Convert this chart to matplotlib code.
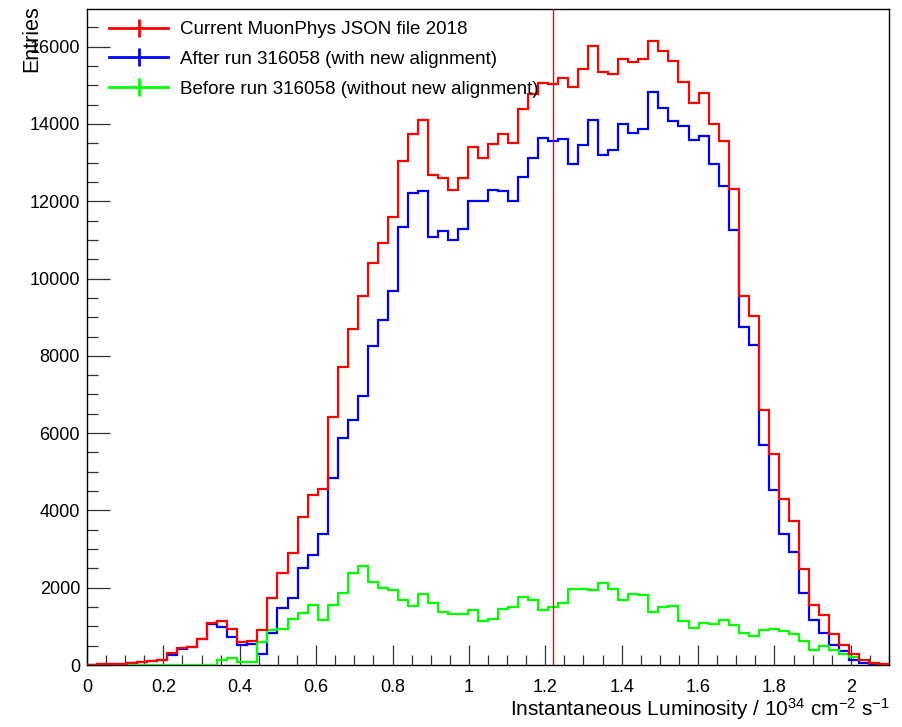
import numpy as np
import matplotlib
matplotlib.use("Agg")
import matplotlib.pyplot as plt
from matplotlib.lines import Line2D
from matplotlib.ticker import MultipleLocator

plt.rcParams['font.family'] = ['Liberation Sans', 'DejaVu Sans']
plt.rcParams['mathtext.fontset'] = 'custom'
plt.rcParams['mathtext.rm'] = 'Liberation Sans'
plt.rcParams['mathtext.default'] = 'regular'

# Histogram binning
X_MIN, X_MAX, N_BINS = 0.0, 2.1, 80

# Bin contents
current_2018 = [10, 20, 30, 35, 50, 70, 100, 130, 300, 430,
                475, 670, 1095, 1140, 920, 600, 630, 905, 1725, 2370,
                2900, 3830, 4410, 4560, 6410, 7720, 8700, 9540, 10410, 10930,
                11600, 13030, 13750, 14100, 12690, 12610, 12300, 12610, 13410, 13120,
                13490, 13730, 13500, 14380, 14780, 15050, 15040, 15200, 14960, 15420,
                16030, 15340, 15290, 15690, 15600, 15690, 16160, 15900, 15630, 15090,
                14550, 14800, 14000, 13560, 12310, 9560, 9030, 6600, 5470, 4290,
                3730, 2490, 1540, 1300, 800, 505, 275, 135, 55, 18]

after_run = [10, 20, 30, 35, 50, 70, 100, 120, 260, 410,
             460, 660, 1070, 975, 735, 520, 545, 290, 830, 1470,
             1740, 2500, 2850, 3400, 4840, 5870, 6340, 6970, 8260, 8930,
             9680, 11340, 12220, 12260, 11080, 11220, 10990, 11270, 12010, 12000,
             12280, 12270, 12010, 12620, 13130, 13650, 13570, 13620, 12970, 13460,
             14100, 13190, 13330, 14010, 13760, 13870, 14820, 14410, 14080, 13950,
             13590, 13700, 12960, 12400, 11250, 8740, 8270, 5700, 4540, 3400,
             2925, 1870, 1160, 820, 530, 370, 130, 55, 10, 0]

before_run = [0, 0, 0, 0, 0, 0, 0, 0, 0, 0,
              0, 0, 0, 140, 190, 90, 65, 590, 900, 920,
              1180, 1350, 1560, 1160, 1565, 1860, 2370, 2570, 2145, 2000,
              1950, 1680, 1525, 1835, 1610, 1380, 1330, 1310, 1415, 1130,
              1200, 1448, 1510, 1755, 1690, 1420, 1490, 1600, 1975, 1960,
              1940, 2125, 1970, 1685, 1830, 1810, 1368, 1500, 1528, 1139,
              970, 1090, 1060, 1160, 1030, 820, 760, 900, 920, 880,
              815, 610, 380, 498, 400, 296, 198, 118, 42, 0]

labels = ["Current MuonPhys JSON file 2018",
          "After run 316058 (with new alignment)",
          "Before run 316058 (without new alignment)"]
colors = ["#ff0000", "#0000ff", "#00ff00"]
vline_x = 1.221

edges = np.linspace(X_MIN, X_MAX, N_BINS + 1)

W, H = 902, 727
fig = plt.figure(figsize=(W / 100, H / 100), dpi=100)
ax = fig.add_axes([87 / W, 1 - 665 / H, (889 - 87) / W, (665 - 9.3) / H])

series = [current_2018, after_run, before_run]
order = [1, 2, 0]
for k in order:
    ax.stairs(series[k], edges, baseline=None, color=colors[k], lw=1.6, zorder=3 + (k == 0))

ymax = 1.05 * max(max(s) for s in series)
ax.set_xlim(X_MIN, X_MAX)
ax.set_ylim(0, ymax)
ax.axvline(vline_x, color="#ff0000", lw=1.0, zorder=5)

ax.xaxis.set_major_locator(MultipleLocator(0.2))
ax.xaxis.set_minor_locator(MultipleLocator(0.05))
ax.yaxis.set_major_locator(MultipleLocator(2000))
ax.yaxis.set_minor_locator(MultipleLocator(500))
ax.xaxis.set_major_formatter(matplotlib.ticker.FuncFormatter(lambda v, p: f"{v:g}"))
ax.tick_params(axis='x', which='major', direction='in', length=14.5, width=0.9, color='#333333',
               labelsize=13.0, pad=10, top=False)
ax.tick_params(axis='x', which='minor', direction='in', length=7.2, width=0.9, color='#333333', top=False)
ax.tick_params(axis='y', which='major', direction='in', length=16.5, width=0.9, color='#333333',
               labelsize=13.0, pad=5, right=False)
ax.tick_params(axis='y', which='minor', direction='in', length=8.2, width=0.9, color='#333333', right=False)
for s in ax.spines.values():
    s.set_linewidth(1.0)
    s.set_color('black')

fig.text(890 / W, 1 - 716 / H, r"Instantaneous Luminosity / 10$^{34}$ cm$^{-2}$ s$^{-1}$",
         ha='right', va='baseline', fontsize=15.0)
fig.text(32 / W, 1 - 5 / H, "Entries", rotation=90, ha='center', va='top', fontsize=15.5)

handles = [Line2D([0], [0], color=c, lw=2.0, marker='|', markersize=13, markeredgewidth=2.0)
           for c in colors]
leg = fig.legend(handles, labels, loc='upper left', bbox_to_anchor=(109 / W, 1 - 21 / H),
                 frameon=False, fontsize=13.5, handlelength=3.15, handletextpad=0.62,
                 labelspacing=0.68, borderpad=0, borderaxespad=0)

fig.savefig("out.png", dpi=100)
